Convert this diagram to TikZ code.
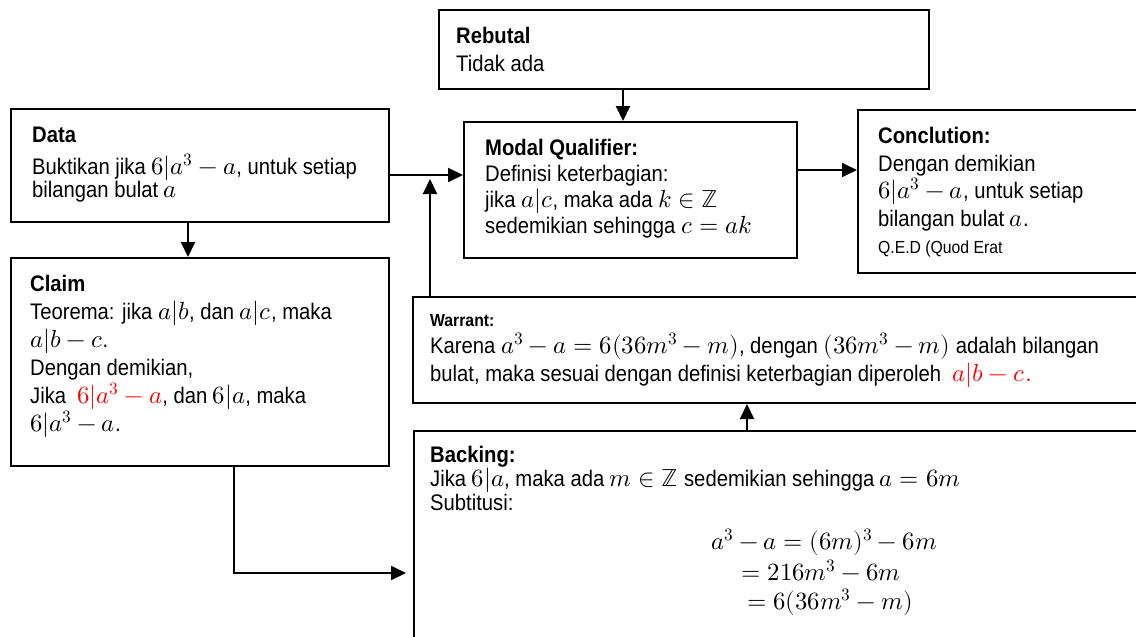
\documentclass[tikz,border=0pt]{standalone}
\usepackage{amsmath}
\usepackage{fontspec}
\usepackage{unicode-math}
\setmainfont{Liberation Sans}[FakeStretch=0.9]
\setmathfont{Latin Modern Math}[Scale=1.1]
\usetikzlibrary{arrows.meta}
\definecolor{hl}{RGB}{255,0,0}

\begin{document}
\begin{tikzpicture}[x=1pt,y=-1pt,
  box/.style={draw, line width=2pt, anchor=north west, inner sep=0pt},
  txt/.style={anchor=north west, inner sep=0pt, align=left,
              font=\fontsize{22.5}{#1}\selectfont},
  txt/.default=26,
  eqn/.style={anchor=base, inner sep=0pt, font=\fontsize{22.5}{26}\selectfont},
  arr/.style={line width=2pt, -{Triangle[length=15pt,width=14pt]}}]

\clip (0,0) rectangle (1136,637);
\fill[white] (0,0) rectangle (1136,637);

% boxes
\node[box, minimum width=490pt, minimum height=79pt] (rebutal) at (438,9) {};
\node[box, minimum width=333pt, minimum height=136pt] (modal) at (463,121) {};
\node[box, minimum width=378pt, minimum height=113pt] (data) at (10,108) {};
\node[box, minimum width=378pt, minimum height=208pt] (claim) at (10,257) {};
\node[box, minimum width=300pt, minimum height=163pt] (concl) at (857,109) {};
\node[box, minimum width=740pt, minimum height=106pt] (warrant) at (412,296) {};
\node[box, minimum width=740pt, minimum height=230pt] (backing) at (413,430) {};

% texts
\node[txt=28] (tRebutal) at (456,27) {{\bfseries Rebutal}\\Tidak ada};

\node[txt=23] (tData) at (32,127)
  {{\bfseries Data}\\[9pt]
   Buktikan jika $6|a^3-a$, untuk setiap\\
   bilangan bulat $a$};

\node[txt=26] (tModal) at (485,139)
  {{\bfseries Modal Qualifier:}\\
   Definisi keterbagian:\\
   jika $a|c$, maka ada $k\in\mathbb{Z}$\\
   sedemikian sehingga $c=ak$};

\node[txt=27.5] (tConcl) at (878,127)
  {{\bfseries Conclution:}\\
   Dengan demikian\\
   $6|a^3-a$, untuk setiap\\
   bilangan bulat $a$.\\
   {\fontsize{17.5}{27.5}\selectfont Q.E.D (Quod Erat}};

\node[txt=28] (tClaim) at (30,275)
  {{\bfseries Claim}\\
   Teorema: jika $a|b$, dan $a|c$, maka\\
   $a|b-c$.\\
   Dengan demikian,\\
   Jika\enspace{\color{hl}$6|a^3-a$}, dan $6|a$, maka\\
   $6|a^3-a$.};

\node[txt=27.5] (tWarrant) at (430,314)
  {{\fontsize{17.5}{27.5}\selectfont\bfseries Warrant:}\\
   Karena $a^3-a=6(36m^3-m)$, dengan $(36m^3-m)$ adalah bilangan\\
   bulat, maka sesuai dengan definisi keterbagian diperoleh\enspace{\color{hl}$a|b-c.$}};

\node[txt=24] (tBacking) at (430,446)
  {{\bfseries Backing:}\\
   Jika $6|a$, maka ada $m\in\mathbb{Z}$ sedemikian sehingga $a=6m$\\
   Subtitusi:};

\node[eqn] (eq1) at (824,549) {$a^3-a=(6m)^3-6m$};
\node[eqn] (eq2) at (821,580) {$=216m^3-6m$};
\node[eqn] (eq3) at (830,609) {$=6(36m^3-m)$};

% connectors
\coordinate (join) at (430,179);
\draw[arr] (rebutal.south -| 623,0) -- (modal.north -| 623,0);
\draw[arr] (data.east |- 0,175) -- (modal.west |- 0,175);
\draw[arr] (data.south -| 188,0) -- (claim.north -| 188,0);
\draw[arr] (modal.east |- 0,170) -- (concl.west |- 0,170);
\draw[arr] (warrant.north -| join) -- (join);
\draw[arr] (backing.north -| 747,0) -- (warrant.south -| 747,0);
\draw[arr] (claim.south -| 234,0) |- ([xshift=-7pt]backing.west |- 0,573);
\end{tikzpicture}
\end{document}
